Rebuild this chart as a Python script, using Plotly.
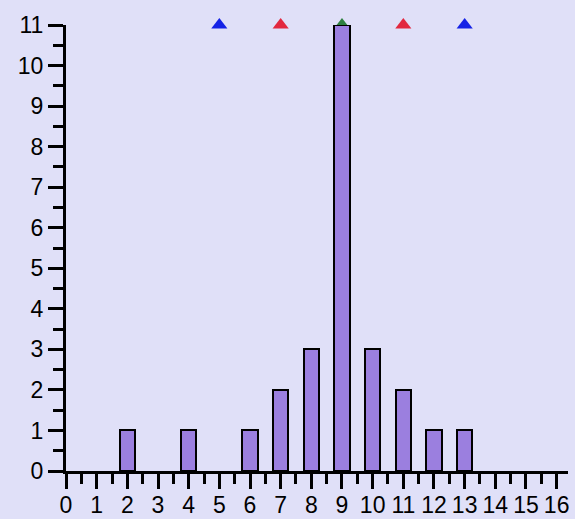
import plotly.graph_objects as go

# Histogram data
bin_x = [2, 4, 6, 7, 8, 9, 10, 11, 12, 13]
counts = [1, 1, 1, 2, 3, 11, 3, 2, 1, 1]

# Marker (triangle) data along the top
blue_x = [5, 13]
red_x = [7, 11]
green_x = [9]
marker_level = 11

x_tick_vals = list(range(0, 17))
y_tick_vals = list(range(0, 12))

BG = "#E0E0F8"
FONT = "Liberation Sans, Arial, sans-serif"
FS = 23

fig = go.Figure()

# Markers on base axes (drawn beneath bars)
fig.add_trace(go.Scatter(x=blue_x, y=[marker_level] * len(blue_x), mode="markers",
                         marker=dict(symbol="triangle-up", size=14, color="#1422E6"),
                         cliponaxis=False, xaxis="x", yaxis="y", showlegend=False))
fig.add_trace(go.Scatter(x=red_x, y=[marker_level] * len(red_x), mode="markers",
                         marker=dict(symbol="triangle-up", size=14, color="#E2283F"),
                         cliponaxis=False, xaxis="x", yaxis="y", showlegend=False))
fig.add_trace(go.Scatter(x=green_x, y=[marker_level] * len(green_x), mode="markers",
                         marker=dict(symbol="triangle-up", size=14, color="#2E8040"),
                         cliponaxis=False, xaxis="x", yaxis="y", showlegend=False))

# Bars on overlay axes so they are drawn above the markers
fig.add_trace(go.Bar(x=bin_x, y=counts, width=0.5,
                     marker=dict(color="#9B7FDF", line=dict(color="#000000", width=2)),
                     xaxis="x2", yaxis="y2", showlegend=False))

XR = [0, 16.37]
YR = [0, 11]

fig.update_layout(
    width=575, height=519,
    margin=dict(l=66, r=7, t=25, b=48),
    paper_bgcolor=BG, plot_bgcolor=BG,
    font=dict(family=FONT, size=FS, color="#000000"),
    bargap=0,
    xaxis=dict(range=XR, tickvals=x_tick_vals, ticktext=[str(v) for v in x_tick_vals],
               showgrid=False, zeroline=False, showline=True, linecolor="#000000", linewidth=3,
               ticks="outside", ticklen=15, tickwidth=3, tickcolor="#000000",
               minor=dict(ticks="outside", dtick=0.5, ticklen=10, tickwidth=3, tickcolor="#000000", showgrid=False),
               tickfont=dict(family=FONT, size=FS), ticklabelstandoff=-4,
               automargin=False, fixedrange=True),
    yaxis=dict(range=YR, tickvals=y_tick_vals, ticktext=[str(v) for v in y_tick_vals],
               showgrid=False, zeroline=False, showline=True, linecolor="#000000", linewidth=3,
               ticks="outside", ticklen=15, tickwidth=3, tickcolor="#000000",
               minor=dict(ticks="outside", dtick=0.5, ticklen=10, tickwidth=3, tickcolor="#000000", showgrid=False),
               tickfont=dict(family=FONT, size=FS), automargin=False, fixedrange=True),
    xaxis2=dict(range=XR, overlaying="x", visible=False, fixedrange=True, automargin=False),
    yaxis2=dict(range=YR, overlaying="y", visible=False, fixedrange=True, automargin=False),
)

fig.write_html(
    "out.html",
    config={"displayModeBar": False},
    post_script="document.body.style.margin='0';document.body.style.padding='0';"
                "document.body.style.background='" + BG + "';"
                "document.body.style.overflow='hidden';",
)
